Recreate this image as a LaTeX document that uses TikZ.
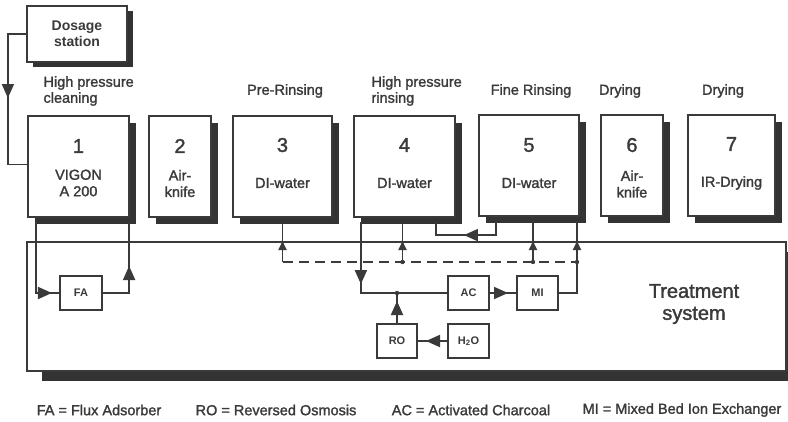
\documentclass[tikz,border=0pt]{standalone}
\usepackage{fontspec}
\setmainfont{Liberation Sans}
\newfontfamily\medfont{Liberation Sans}[FakeBold=1.6]
\usetikzlibrary{shadows,arrows.meta,calc}
\definecolor{ink}{HTML}{3A3A3A}
\definecolor{shade}{HTML}{333333}
\begin{document}
\begin{tikzpicture}[x=1pt,y=-1pt,line join=miter,
  every node/.style={text=ink},
  pipe/.style={color=ink,line width=1.8pt},
  tip/.style={pipe,-{Triangle[length=14pt,width=12pt]}},
  stip/.style={pipe,-{Triangle[length=9pt,width=8pt]}},
  pbox/.style={draw=ink,line width=2.2pt,fill=white,inner sep=0pt,minimum height=101pt,
    drop shadow={shadow xshift=7pt,shadow yshift=-7pt,opacity=1,fill=shade}},
  dbox/.style={draw=ink,line width=2.2pt,fill=white,inner sep=0pt,align=center,
    font=\fontsize{14}{16}\selectfont\bfseries,
    drop shadow={shadow xshift=6pt,shadow yshift=-5pt,opacity=1,fill=shade}},
  tbox/.style={draw=ink,line width=2.2pt,fill=white,inner sep=0pt,
    drop shadow={shadow xshift=15pt,shadow yshift=-10pt,opacity=1,fill=shade}},
  sbox/.style={draw=ink,line width=2pt,fill=white,inner sep=0pt,minimum width=41pt,minimum height=34pt,
    font=\fontsize{11}{12}\selectfont\bfseries},
  numtxt/.style={font=\medfont\fontsize{20}{22}\selectfont},
  intxt/.style={align=center,font=\medfont\fontsize{14.5}{16.5}\selectfont},
  hdr/.style={align=left,font=\medfont\fontsize{14.5}{16}\selectfont},
  leg/.style={font=\medfont\fontsize{14.5}{16}\selectfont}
]
\useasboundingbox (0,0) rectangle (788,421);

% treatment system
\node[tbox,minimum width=759pt,minimum height=129pt] (tr) at (406.5,306.5) {};
\node[align=center,font=\medfont\fontsize{20}{22}\selectfont] (trt) at (694,304) {Treatment\\system};

% small boxes
\node[sbox,minimum width=42pt] (fa) at (81,293) {FA};
\node[sbox] (ac) at (468.5,293) {AC};
\node[sbox] (mi) at (537.5,293) {MI};
\node[sbox,minimum width=40pt] (ro) at (397,341) {RO};
\node[sbox] (h2o) at (468.5,341) {H\textsubscript{2}O};

% dosage station
\node[dbox,minimum width=100pt,minimum height=56pt] (dos) at (77,34) {Dosage\\station};

% coordinates on the collector lines
\coordinate (j3) at (282.5,262);
\coordinate (j4) at (402.5,262);
\coordinate (j5) at (533,262);
\coordinate (jr) at (577,262);

% process boxes
\node[pbox,minimum width=101pt] (b1) at (78.5,166.5) {};
\node[pbox,minimum width=62pt] (b2) at (180,166.5) {};
\node[pbox,minimum width=99pt] (b3) at (282.5,166.5) {};
\node[pbox,minimum width=101pt] (b4) at (404.5,166.5) {};
\node[pbox,minimum width=100pt] (b5) at (529,165.5) {};
\node[pbox,minimum width=62pt] (b6) at (632,165.5) {};
\node[pbox,minimum width=87pt] (b7) at (731.5,165.5) {};

% numbers and texts
\node[numtxt] (n1) at (78.5,146) {1};
\node[numtxt] (n2) at (180,146) {2};
\node[numtxt] (n3) at (282.5,145) {3};
\node[numtxt] (n4) at (404.5,145) {4};
\node[numtxt] (n5) at (529,145) {5};
\node[numtxt] (n6) at (632,145) {6};
\node[numtxt] (n7) at (731.5,144) {7};
\node[intxt] (t1) at (78.5,183) {VIGON\\A 200};
\node[intxt] (t2) at (180,183.5) {Air-\\knife};
\node[intxt] (t3) at (282.5,183) {DI-water};
\node[intxt] (t4) at (404.5,183) {DI-water};
\node[intxt] (t5) at (529,183) {DI-water};
\node[intxt] (t6) at (632,184) {Air-\\knife};
\node[intxt] (t7) at (731.5,183) {IR-Drying};

% headers
\node[hdr,anchor=west] (h1) at (40,91) {High pressure\\cleaning};
\node[hdr] (h3) at (285,91) {Pre-Rinsing};
\node[hdr,anchor=west] (h4) at (368,91) {High pressure\\rinsing};
\node[hdr] (h5) at (531,91) {Fine Rinsing};
\node[hdr] (h6) at (620,91) {Drying};
\node[hdr] (h7) at (723,91) {Drying};

% legend
\node[leg] (l1) at (99,410) {FA = Flux Adsorber};
\node[leg] (l2) at (276,410) {RO = Reversed Osmosis};
\node[leg] (l3) at (471,410) {AC = Activated Charcoal};
\node[leg] (l4) at (682,410) {MI = Mixed Bed Ion Exchanger};

% connectors
\draw[pipe] (dos.west) -- ++(-18,0) coordinate (dc) |- ($(b1.west)+(0,-2)$);
\draw[tip] (dc) -- ++(0,64);
\draw[pipe] ($(b1.south west)+(9,4)$) coordinate (fa1) |- (fa.west);
\draw[tip] (fa1 |- fa.west) -- ++(16,0);
\draw[pipe] (fa.east) -| ($(b1.south east)+(-1,4)$) coordinate (fa2);
\draw[tip] (fa2 |- fa.east) -- ++(0,-27);
\draw[pipe] (j3) -- ($(b3.south)+(0,4)$);
\draw[stip] (j3) -- ++(0,-21);
\draw[pipe,dash pattern=on 10pt off 6pt] (j3) -- (jr);
\draw[pipe] (j4) -- ($(j4 |- b4.south)+(0,4)$);
\draw[stip] (j4) -- ++(0,-21);
\draw[pipe] (j5) -- ($(j5 |- b5.south)+(0,4)$);
\draw[stip] (j5) -- ++(0,-21);
\draw[pipe] ($(b4.south west)+(8,4)$) coordinate (b4l) |- (ac.west);
\draw[tip] (b4l) -- ++(0,62);
\draw[pipe] ($(b5.south west)+(18,4)$) coordinate (b5l) -- ++(0,14) coordinate (b5m) -| ($(b4.south east)+(-20,4)$);
\draw[tip] (b5m) -- ++(-32,0);
\draw[pipe] (mi.east) -| ($(jr |- b5.south)+(0,4)$);
\draw[stip] (jr) -- ++(0,-21);
\coordinate (jro) at (ro.north |- ac.west);
\draw[pipe] (ro.north) -- (jro);
\draw[tip] (ro.north) -- ++(0,-22);
\draw[pipe] (ac.east) -- (mi.west);
\draw[tip] (ac.east) -- ++(18,0);
\draw[pipe] (h2o.west) -- (ro.east);
\draw[tip] (h2o.west) -- ++(-21,0);
\foreach \p in {j4,j5,jr,jro} \fill[ink] (\p) circle (2.2pt);
\end{tikzpicture}
\end{document}
